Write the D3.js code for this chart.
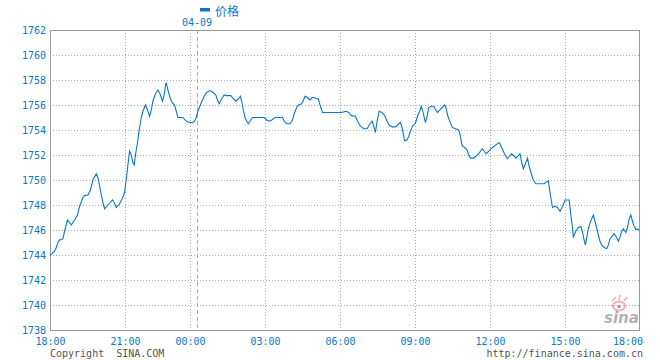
<!DOCTYPE html>
<html><head><meta charset="utf-8">
<script src="https://cdn.jsdelivr.net/npm/d3@7"></script>
<style>
html,body{margin:0;padding:0;background:#fff;}
svg{display:block;}
</style></head>
<body>
<svg id="c" width="660" height="360"></svg>
<script>
// ---- data ----
const seriesName = "价格";
const dateLabel = "04-09";
const dayBreakMinute = 353;
const xTickLabels = ["18:00","21:00","00:00","03:00","06:00","09:00","12:00","15:00","18:00"];
const xTickMinutes = [0,180,336,516,696,876,1056,1236,1416];
const yTicks = [1738,1740,1742,1744,1746,1748,1750,1752,1754,1756,1758,1760,1762];
const minutes = [0,11,15,19,23,31,35,42,47,51,59,66,71,79,83,91,97,103,111,115,122,127,131,139,150,154,159,167,173,179,184,187,191,195,199,202,206,210,214,219,223,229,234,239,243,247,253,259,264,270,274,277,279,283,288,293,299,303,307,315,319,327,335,343,347,351,355,362,370,376,384,392,398,402,406,412,418,424,434,440,446,452,457,460,464,468,472,476,480,486,492,514,520,526,532,540,558,562,568,576,582,586,592,596,604,608,612,618,624,630,634,640,644,648,654,700,710,717,723,733,738,745,753,761,766,773,777,781,785,790,797,803,809,814,821,830,837,841,845,849,851,857,861,865,870,877,882,887,891,895,901,905,909,915,921,926,930,935,941,947,950,955,961,966,973,981,985,989,995,1001,1005,1009,1017,1022,1029,1035,1038,1042,1047,1053,1058,1062,1068,1076,1078,1084,1092,1098,1102,1108,1114,1118,1124,1128,1132,1136,1141,1146,1150,1156,1160,1166,1186,1192,1196,1200,1204,1206,1212,1218,1224,1230,1234,1236,1246,1250,1254,1256,1258,1262,1268,1274,1278,1282,1285,1288,1292,1296,1301,1304,1308,1312,1316,1320,1324,1330,1336,1340,1344,1350,1354,1360,1364,1368,1372,1376,1382,1386,1390,1394,1398,1402,1406,1414];
const prices = [1743.95,1744.3,1744.6,1745.0,1745.2,1745.3,1745.9,1746.8,1746.6,1746.4,1746.8,1747.2,1747.9,1748.6,1748.75,1748.8,1749.2,1750.0,1750.5,1750.2,1749.0,1748.2,1747.7,1748.0,1748.4,1748.2,1747.8,1748.1,1748.5,1749.0,1750.3,1751.2,1752.3,1752.0,1751.4,1751.2,1752.2,1753.0,1754.0,1755.0,1755.5,1756.0,1755.6,1755.1,1755.6,1756.3,1756.9,1757.2,1756.9,1756.3,1756.8,1757.5,1757.8,1757.2,1756.6,1756.2,1756.0,1755.5,1755.0,1755.0,1755.0,1754.7,1754.6,1754.6,1754.7,1755.0,1755.5,1756.1,1756.7,1757.0,1757.15,1757.0,1756.8,1756.4,1756.1,1756.5,1756.8,1756.75,1756.75,1756.5,1756.3,1756.5,1756.7,1756.3,1755.6,1755.0,1754.7,1754.5,1754.7,1755.0,1755.0,1755.0,1754.8,1754.7,1754.8,1755.0,1755.0,1754.7,1754.5,1754.5,1754.8,1755.3,1755.8,1756.0,1756.1,1756.35,1756.7,1756.6,1756.4,1756.6,1756.6,1756.5,1756.5,1756.0,1755.4,1755.4,1755.5,1755.4,1755.15,1755.1,1754.7,1754.3,1754.1,1754.1,1754.4,1754.7,1754.3,1753.8,1754.7,1755.5,1755.4,1755.15,1754.7,1754.4,1754.25,1754.25,1754.5,1754.6,1754.2,1753.5,1753.15,1753.2,1753.5,1753.9,1754.3,1754.55,1755.1,1755.5,1755.9,1755.45,1754.6,1755.1,1755.8,1755.9,1755.9,1755.6,1755.4,1755.6,1755.8,1756.0,1755.8,1755.1,1754.55,1754.2,1754.1,1754.0,1753.5,1752.75,1752.6,1752.4,1752.0,1751.75,1751.75,1751.9,1752.1,1752.4,1752.5,1752.3,1752.1,1752.3,1752.5,1752.6,1752.75,1752.96,1753.0,1752.6,1752.0,1751.7,1751.9,1752.1,1751.9,1751.75,1751.95,1752.1,1751.4,1750.9,1751.3,1751.75,1751.1,1750.4,1750.0,1749.7,1749.7,1749.85,1749.95,1749.0,1748.2,1747.8,1747.9,1747.8,1747.5,1747.9,1748.2,1748.4,1748.4,1747.2,1746.2,1745.4,1745.6,1745.9,1746.2,1746.3,1745.8,1745.2,1744.8,1745.35,1746.1,1746.55,1746.95,1747.2,1746.7,1746.2,1745.6,1745.1,1744.8,1744.6,1744.5,1744.8,1745.3,1745.55,1745.7,1745.4,1745.1,1745.45,1745.9,1746.1,1745.8,1746.2,1746.9,1747.2,1746.7,1746.3,1746.05,1746.05];
const copyrightText = "Copyright  SINA.COM";
const urlText = "http://finance.sina.com.cn";

// ---- drawing ----
const svg = d3.select("#c");
const L = 50, R = 640, T = 30, B = 330;
const blue = "#0a78cc";
const mono = "'DejaVu Sans Mono', 'Liberation Mono', monospace";

const x = d3.scaleLinear().domain([xTickMinutes[0], xTickMinutes[xTickMinutes.length-1]]).range([L, R]);
const y = d3.scaleLinear().domain([yTicks[0], yTicks[yTicks.length-1]]).range([B, T]);
const crisp = v => Math.round(v) + 0.5;

// horizontal grid
svg.append("g").selectAll("line").data(yTicks.slice(1, -1)).join("line")
  .attr("x1", L).attr("x2", R)
  .attr("y1", d => crisp(y(d))).attr("y2", d => crisp(y(d)))
  .attr("stroke", "#aaa").attr("stroke-width", 1).attr("stroke-dasharray", "1,2");

// vertical grid
svg.append("g").selectAll("line").data(xTickMinutes.slice(1, -1)).join("line")
  .attr("y1", T).attr("y2", B)
  .attr("x1", d => crisp(x(d))).attr("x2", d => crisp(x(d)))
  .attr("stroke", "#aaa").attr("stroke-width", 1).attr("stroke-dasharray", "1,2");

// day break dashed line
svg.append("line")
  .attr("x1", crisp(x(dayBreakMinute))).attr("x2", crisp(x(dayBreakMinute)))
  .attr("y1", T).attr("y2", B)
  .attr("stroke", "#aaa").attr("stroke-width", 1).attr("stroke-dasharray", "4,3");

// sina watermark
const wm = svg.append("g").attr("opacity", 0.9);
wm.append("ellipse").attr("cx", 619).attr("cy", 306).attr("rx", 6).attr("ry", 4.5)
  .attr("fill", "none").attr("stroke", "#f4a3a8").attr("stroke-width", 2);
wm.append("circle").attr("cx", 619).attr("cy", 306.5).attr("r", 1.6).attr("fill", "#888");
wm.append("path").attr("d", "M612,301 L616,297 M619,300 L620,295 M624,301 L627,297")
  .attr("stroke", "#f4a3a8").attr("stroke-width", 1.6).attr("fill", "none");
wm.append("text").attr("x", 604).attr("y", 323)
  .attr("font-family", "'DejaVu Sans', sans-serif").attr("font-size", 15)
  .attr("font-style", "italic").attr("font-weight", "bold")
  .attr("fill", "#aaa").text("sina");

// border
svg.append("rect").attr("x", L + 0.5).attr("y", T + 0.5)
  .attr("width", R - L - 1).attr("height", B - T)
  .attr("fill", "none").attr("stroke", "#9a9a9a").attr("stroke-width", 1);

// price line
const pts = minutes.map((m, i) => [m, prices[i]]);
svg.append("path").datum(pts)
  .attr("d", d3.line().x(d => x(d[0])).y(d => y(d[1])))
  .attr("fill", "none").attr("stroke", blue).attr("stroke-width", 1.1)
  .attr("stroke-linejoin", "miter");

// y axis labels
svg.append("g").selectAll("text").data(yTicks).join("text")
  .attr("x", 46).attr("y", d => y(d) + 3.5)
  .attr("text-anchor", "end").attr("font-family", mono).attr("font-size", 10)
  .attr("fill", blue).text(d => d);

// x axis labels
svg.append("g").selectAll("text").data(xTickMinutes).join("text")
  .attr("x", (d, i) => i === xTickMinutes.length - 1 ? 643 : x(d) + 0.5)
  .attr("y", 345)
  .attr("text-anchor", (d, i) => i === xTickMinutes.length - 1 ? "end" : "middle")
  .attr("font-family", mono).attr("font-size", 10)
  .attr("fill", blue).text((d, i) => xTickLabels[i]);

// date label
svg.append("text").attr("x", x(dayBreakMinute)).attr("y", 26)
  .attr("text-anchor", "middle").attr("font-family", mono).attr("font-size", 10)
  .attr("fill", blue).text(dateLabel);

// legend
svg.append("rect").attr("x", 200).attr("y", 8).attr("width", 10).attr("height", 3.5).attr("fill", blue);
svg.append("text").attr("x", 215).attr("y", 16)
  .attr("font-family", "'Noto Sans CJK SC', sans-serif").attr("font-size", 12)
  .attr("fill", blue).text(seriesName);

// footer
svg.append("text").attr("x", 50).attr("y", 357)
  .attr("font-family", mono).attr("font-size", 10).attr("fill", "#555").attr("xml:space", "preserve")
  .style("white-space", "pre").text(copyrightText);
svg.append("text").attr("x", 643).attr("y", 357).attr("text-anchor", "end")
  .attr("font-family", mono).attr("font-size", 10).attr("fill", "#555").text(urlText);
</script>
</body></html>
